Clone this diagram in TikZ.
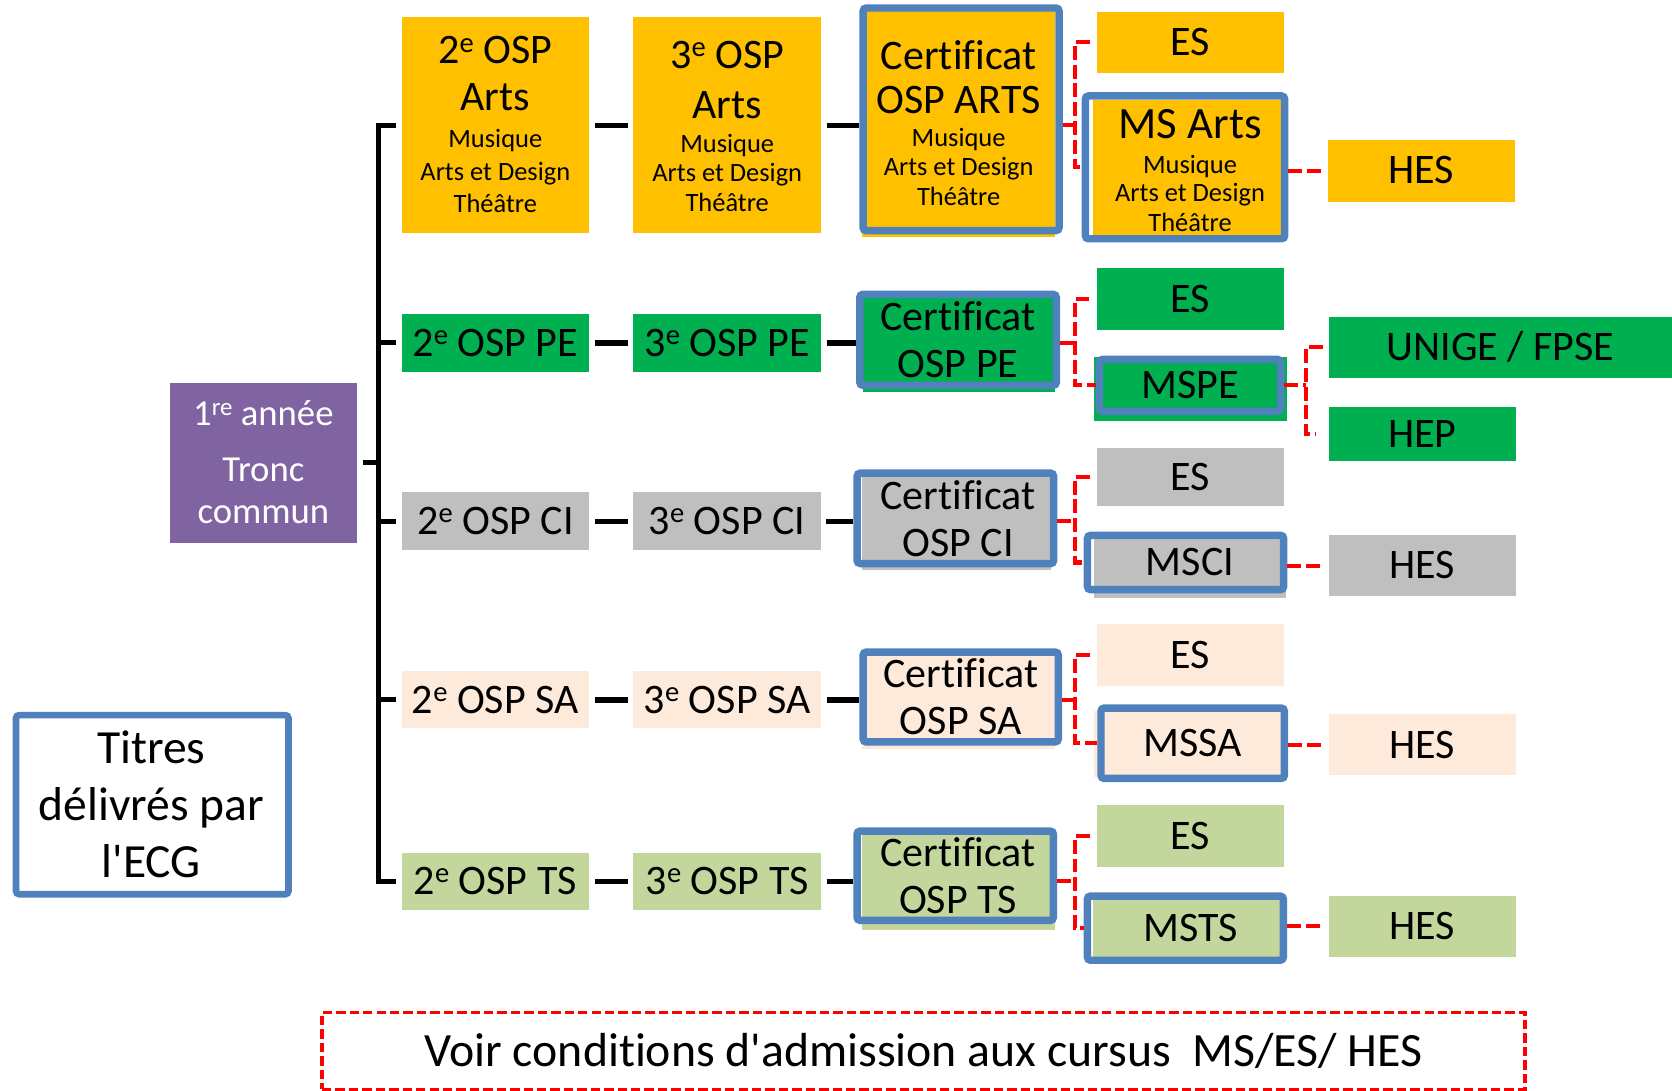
\documentclass[tikz,border=0pt]{standalone}
\usepackage{fontspec}
\setmainfont{Carlito}[Ligatures={NoCommon}]
\usepackage{graphicx}
\usetikzlibrary{calc}
\definecolor{cOr}{HTML}{FFC000}
\definecolor{cGr}{HTML}{00B050}
\definecolor{cGy}{HTML}{BFBFBF}
\definecolor{cPe}{HTML}{FDEADA}
\definecolor{cOl}{HTML}{C3D69B}
\definecolor{cPu}{HTML}{8064A2}
\definecolor{cBl}{HTML}{4F81BD}
\definecolor{cRd}{HTML}{FF0000}
\newcommand{\supx}[1]{\raisebox{0.28em}{\scalebox{0.68}{#1}}}
\newcommand{\fBig}{\fontsize{19.7}{21.9}\selectfont}
\newcommand{\fMs}{\fontsize{21}{24}\selectfont}
\newcommand{\fSm}{\fontsize{12.4}{14}\selectfont}
\newcommand{\fPur}{\fontsize{17.2}{20}\selectfont}
\newcommand{\fTit}{\fontsize{22.3}{26.9}\selectfont}
\newcommand{\fNote}{\fontsize{22.4}{26}\selectfont}
\newcommand{\mkbox}[7][]{%
  \pgfmathsetmacro{\bxw}{(#5-#3)*0.5}%
  \pgfmathsetmacro{\bxh}{(#6-#4)*0.5}%
  \pgfmathsetmacro{\bxx}{(#3+#5)/2}%
  \pgfmathsetmacro{\bxy}{(#4+#6)/2}%
  \node[#1, minimum width=\bxw pt, minimum height=\bxh pt] (#2) at (\bxx,\bxy) {#7};}
\tikzset{
  fb/.style={fill=#1, draw=none, inner sep=0pt, outer sep=0pt, font=\fBig, text height=12.45pt, text depth=0pt},
  bx/.style={draw=cBl, line width=3.5pt, rounded corners=1.5pt, inner sep=0pt},
  bxone/.style={font=\fBig, text height=12.45pt, text depth=0pt},
  bxtwo/.style={font=\fBig, align=center},
  tx/.style={inner sep=0pt, anchor=base},
  blk/.style={draw=black, line width=2.5pt},
  tree/.style={draw=black, line width=2.4pt, line join=miter},
  reddash/.style={draw=cRd, line width=1.9pt, dash pattern=on 6.5pt off 2.3pt},
  notebox/.style={draw=cRd, line width=1.6pt, dash pattern=on 4.4pt off 1.9pt, inner sep=0pt, font=\fNote, text height=14.16pt, text depth=0pt}
}
\begin{document}
\begin{tikzpicture}[x=0.5pt,y=-0.5pt]
\useasboundingbox (0,0) rectangle (1568,1023);

% left column
\mkbox[fb=cPu]{pu}{159.4}{359}{335}{509}{}
\node[tx, font=\fPur, text=white] at (247,399) {1\supx{re} année};
\node[tx, font=\fPur, text=white] at (247,452) {Tronc};
\node[tx, font=\fPur, text=white] at (247,490.7) {commun};

\mkbox[draw=cBl, fill=white, line width=3.1pt, rounded corners=1.5pt, inner sep=0pt]{tit}{15}{670.6}{270.5}{838.6}{}
\node[tx, font=\fTit] at (142,716) {Titres};
\node[tx, font=\fTit] at (142,769.7) {délivrés par};
\node[tx, font=\fTit] at (142,823.3) {l\textquotesingle ECG};

% row Arts
\mkbox[fb=cOr]{a2}{377}{16}{552}{218.8}{}
\node[tx, font=\fBig] at (464.5,60) {2\supx{e} OSP};
\node[tx, font=\fBig] at (464.5,104) {Arts};
\node[tx, font=\fSm] at (464.5,138.5) {Musique};
\node[tx, font=\fSm] at (464.5,169) {Arts et Design};
\node[tx, font=\fSm] at (464.5,199.5) {Théâtre};

\mkbox[fb=cOr]{a3}{594}{16}{770}{218.8}{}
\node[tx, font=\fBig] at (682,64.1) {3\supx{e} OSP};
\node[tx, font=\fBig] at (682,111) {Arts};
\node[tx, font=\fSm] at (682,143.2) {Musique};
\node[tx, font=\fSm] at (682,170.4) {Arts et Design};
\node[tx, font=\fSm] at (682,198.5) {Théâtre};

\fill[cOr] (808,8) rectangle (989,222);
\mkbox[bx]{ac}{809.4}{7.5}{993.2}{216.3}{}
\node[tx, font=\fBig] at (899,65.6) {Certificat};
\node[tx, font=\fBig] at (899,106.3) {OSP ARTS};
\node[tx, font=\fSm] at (899,137.6) {Musique};
\node[tx, font=\fSm] at (899,164.8) {Arts et Design};
\node[tx, font=\fSm] at (899,192.3) {Théâtre};

\mkbox[fb=cOr]{aes}{1029}{11}{1204}{68}{ES}

\fill[cOr] (1025.3,93.8) rectangle (1201.4,220.4);
\mkbox[bx]{ams}{1017.8}{90}{1204.8}{223.9}{}
\node[tx, font=\fMs] at (1116,129.7) {MS Arts};
\node[tx, font=\fSm] at (1116,162.5) {Musique};
\node[tx, font=\fSm] at (1116,189.1) {Arts et Design};
\node[tx, font=\fSm] at (1116,217.3) {Théâtre};

\mkbox[fb=cOr]{ahes}{1245}{131}{1421}{189}{HES}

% row PE
\mkbox[fb=cGr]{p2}{377}{294.5}{552}{348.6}{2\supx{e} OSP PE}
\mkbox[fb=cGr]{p3}{594}{294.5}{770}{348.6}{3\supx{e} OSP PE}
\fill[cGr] (809,279) rectangle (989.4,367.3);
\mkbox[bx,bxtwo]{pc}{806.3}{276}{990.6}{361.4}{Certificat\\OSP PE}
\mkbox[fb=cGr]{pes}{1028.6}{251.6}{1204.3}{309.5}{ES}
\fill[cGr] (1025.7,334.5) rectangle (1206.9,394.5);
\mkbox[bx,bxone]{pms}{1031}{337}{1201}{385.8}{MSPE}
\mkbox[fb=cGr]{pun}{1246}{297}{1568}{354.2}{UNIGE / FPSE}
\mkbox[fb=cGr]{phep}{1246}{382}{1421.6}{432}{HEP}

% row CI
\mkbox[fb=cGy]{c2}{377}{461.7}{552.4}{515.8}{2\supx{e} OSP CI}
\mkbox[fb=cGy]{c3}{594}{461.7}{769.7}{515.8}{3\supx{e} OSP CI}
\fill[cGy] (808,447) rectangle (985.4,534.6);
\mkbox[bx,bxtwo]{cc}{803.8}{443.7}{988.1}{528.5}{\hspace*{2.5pt}Certificat\\\hspace*{2.5pt}OSP CI}
\mkbox[fb=cGy]{ces}{1029}{419.8}{1204}{474.5}{ES}
\fill[cGy] (1026,505) rectangle (1206,561);
\mkbox[bx,bxone]{cms}{1019.8}{502}{1203.8}{553}{\hspace*{4.2pt}MSCI}
\mkbox[fb=cGy]{ches}{1246}{501.7}{1421.6}{559}{HES}

% row SA
\mkbox[fb=cPe]{s2}{377}{629.6}{552}{683}{2\supx{e} OSP SA}
\mkbox[fb=cPe]{s3}{594}{629.6}{770}{683}{3\supx{e} OSP SA}
\fill[cPe] (808.5,614) rectangle (989.6,702.4);
\mkbox[bx,bxtwo]{sc}{809.4}{611.5}{992.5}{695.8}{Certificat\\OSP SA}
\mkbox[fb=cPe]{ses}{1029}{585.5}{1203.8}{643.4}{ES}
\fill[cPe] (1026,667) rectangle (1202,728.4);
\mkbox[bx,bxone]{sms}{1032.5}{664}{1204.5}{730}{MSSA}
\mkbox[fb=cPe]{shes}{1246}{670}{1421.6}{727}{HES}

% row TS
\mkbox[fb=cOl]{t2}{377}{799.7}{552}{853.4}{2\supx{e} OSP TS}
\mkbox[fb=cOl]{t3}{594}{799.7}{770}{853.4}{3\supx{e} OSP TS}
\fill[cOl] (808.5,782) rectangle (989.4,872.2);
\mkbox[bx,bxtwo]{tc}{803.7}{779.4}{987.9}{863.1}{\hspace*{2.7pt}Certificat\\\hspace*{2.7pt}OSP TS}
\mkbox[fb=cOl]{tes}{1029}{755}{1204}{812.8}{ES}
\fill[cOl] (1024.6,843.8) rectangle (1201,897);
\mkbox[bx,bxone]{tms}{1019.7}{840.3}{1203.5}{900.5}{\hspace*{5pt}MSTS}
\mkbox[fb=cOl]{thes}{1246}{840}{1421.6}{897}{HES}

% note
\mkbox[notebox]{note}{302}{949.7}{1430}{1021.6}{Voir conditions d\textquotesingle admission aux cursus\ \ MS/ES/ HES}

% tree
\coordinate (tk) at (355,0);
\draw[tree] ([xshift=-2.8pt]a2.west) -- (a2.west -| tk) -- (t2.west -| tk) -- ([xshift=-2.8pt]t2.west);
\foreach \r in {p,c,s} \draw[tree] (\r2.west -| tk) -- ([xshift=-2.8pt]\r2.west);
\draw[tree] ([xshift=2.8pt]pu.east) -- (pu.east -| tk);

% black connectors
\foreach \r in {a,p,c,s,t}{
  \draw[blk] ([xshift=3pt]\r2.east) -- ([xshift=-2.65pt]\r3.west);
  \draw[blk] ([xshift=2.65pt]\r3.east) -- (\r3.east -| \r c.west);
}

% red connectors
\coordinate (rx) at (1008,0);
\coordinate (rxb) at (1225,0);
\foreach \r in {a,p,c,s,t}{
  \draw[reddash] (\r3.east -| \r c.east) -- (\r3.east -| rx);
  \draw[reddash] ([xshift=-3.5pt]\r es.west) -| (\r3.east -| rx) |- (\r ms.west);
}
\foreach \r in {a,c,s,t}{
  \draw[reddash] (\r hes.west -| \r ms.east) -- ([xshift=-2.5pt]\r hes.west);
}
\draw[reddash] (pms.east) -- (pms.east -| rxb);
\draw[reddash] ([xshift=-2.6pt]pun.west) -| (pms.east -| rxb) |- ([xshift=-6pt]phep.west);
\end{tikzpicture}
\end{document}
